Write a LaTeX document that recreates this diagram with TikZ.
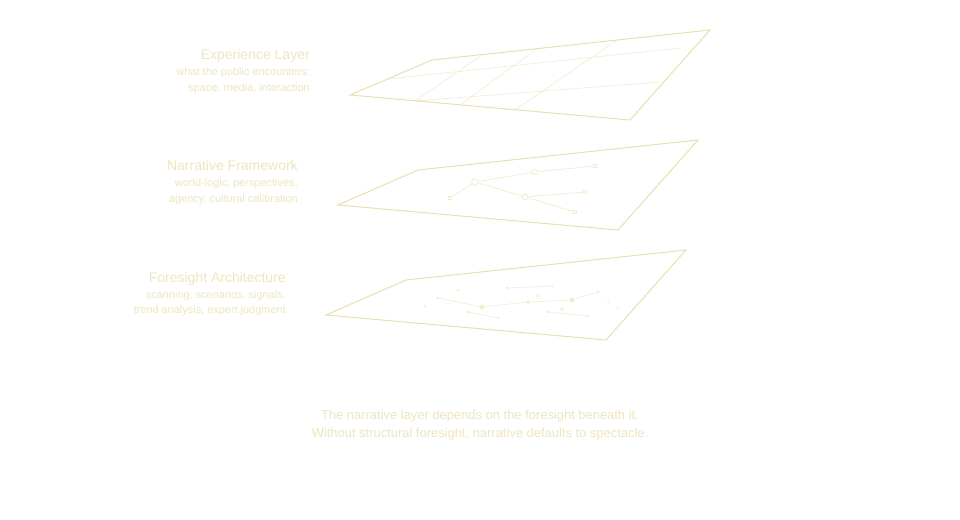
\documentclass[tikz,border=0pt]{standalone}
\usepackage{fontspec}
\setmainfont{Liberation Sans}
\usepackage{tikz}
\usetikzlibrary{arrows}

\definecolor{gold}{RGB}{233,224,176}
\definecolor{paleGold}{RGB}{243,237,208}
\definecolor{labelGold}{RGB}{238,230,190}

\begin{document}
\begin{tikzpicture}[x=0.75pt,y=-0.75pt,
	plane/.style={draw=gold,line width=0.75pt,line join=miter},
	grid/.style={draw=paleGold,line width=0.5pt},
	link/.style={draw=paleGold,line width=0.55pt},
	hub/.style={circle,draw=paleGold,fill=white,line width=0.6pt,inner sep=0pt,minimum size=4.4pt},
	leaf/.style={rectangle,draw=paleGold,fill=white,line width=0.5pt,inner sep=0pt,minimum size=2.4pt},
	dot/.style={circle,fill=paleGold,inner sep=0pt,minimum size=2.6pt},
	title/.style={anchor=base east,text=labelGold,font=\fontsize{10.5pt}{12pt}\selectfont,inner sep=0pt},
	sub/.style={anchor=base east,text=labelGold,font=\fontsize{8.2pt}{10pt}\selectfont,inner sep=0pt},
	note/.style={anchor=base,text=labelGold,font=\fontsize{9.7pt}{12pt}\selectfont,inner sep=0pt}]
	\useasboundingbox (0,0) rectangle (960,520);
	\fill[white] (0,0) rectangle (960,520);

	% experience layer
	\coordinate (e1) at (350,95);
	\coordinate (e2) at (432,60);
	\coordinate (e3) at (710,30);
	\coordinate (e4) at (630,120);
	\draw[grid] (388,79) -- (680,48);
	\draw[grid] (415,101) -- (660,82);
	\draw[grid] (415,101) -- (482,55);
	\draw[grid] (460,105) -- (538,48);
	\draw[grid] (515,110) -- (617,40);
	\draw[plane] (e1) -- (e2) -- (e3) -- (e4) -- cycle;

	\node[title] (t1) at (310,60) {Experience Layer};
	\node[sub] (s1a) at (310,76) {what the public encounters:};
	\node[sub] (s1b) at (310,91.5) {space, media, interaction};

	% narrative framework
	\coordinate (n1) at (338,205);
	\coordinate (n2) at (418,170);
	\coordinate (n3) at (698,140);
	\coordinate (n4) at (618,230);
	\draw[plane] (n1) -- (n2) -- (n3) -- (n4) -- cycle;

	\node[hub,minimum size=5pt] (r1) at (475,182) {};
	\node[hub] (r2) at (535,172) {};
	\node[hub] (r3) at (525,197) {};
	\node[leaf] (l1) at (450,198) {};
	\node[leaf] (l2) at (595,166) {};
	\node[leaf] (l3) at (585,192) {};
	\node[leaf] (l4) at (575,212) {};
	\draw[link] (l1) -- (r1);
	\draw[link] (r1) -- (r2);
	\draw[link] (r2) -- (l2);
	\draw[link] (r1) -- (r3);
	\draw[link] (r3) -- (l3);
	\draw[link] (r3) -- (l4);

	\node[title] (t2) at (298,171) {Narrative Framework};
	\node[sub] (s2a) at (298,187) {world-logic, perspectives,};
	\node[sub] (s2b) at (298,202.5) {agency, cultural calibration};

	% foresight architecture
	\coordinate (f1) at (326,315);
	\coordinate (f2) at (406,280);
	\coordinate (f3) at (686,250);
	\coordinate (f4) at (606,340);
	\draw[plane] (f1) -- (f2) -- (f3) -- (f4) -- cycle;

	\node[dot] (d1) at (438,298) {};
	\node[dot,minimum size=2pt] (d2) at (458,290) {};
	\node[dot,minimum size=1.6pt] (d3) at (425,306) {};
	\node[dot,minimum size=1.6pt] (d4) at (448,304) {};
	\node[dot,minimum size=3.5pt] (d5) at (482,307) {};
	\node[dot] (d6) at (468,312) {};
	\node[dot,minimum size=2pt] (d7) at (498,318) {};
	\node[dot] (d8) at (507,288) {};
	\node[dot,minimum size=2pt] (d9) at (552,286) {};
	\node[dot,minimum size=2.8pt] (d10) at (528,302) {};
	\node[dot,minimum size=2pt] (d11) at (538,296) {};
	\node[dot,minimum size=1.6pt] (d12) at (512,312) {};
	\node[dot,minimum size=4pt] (d13) at (572,300) {};
	\node[dot] (d14) at (598,292) {};
	\node[dot] (d15) at (548,312) {};
	\node[dot,minimum size=2.8pt] (d16) at (562,309) {};
	\node[dot,minimum size=2.2pt] (d17) at (588,316) {};
	\node[dot,minimum size=1.5pt] (d18) at (608,302) {};
	\node[dot,minimum size=1.8pt] (d19) at (618,308) {};
	\draw[link,line width=0.45pt] (d1) -- (d5);
	\draw[link,line width=0.45pt] (d5) -- (d10);
	\draw[link,line width=0.45pt] (d10) -- (d13);
	\draw[link,line width=0.45pt] (d13) -- (d14);
	\draw[link,line width=0.45pt] (d8) -- (d9);
	\draw[link,line width=0.45pt] (d6) -- (d7);
	\draw[link,line width=0.45pt] (d15) -- (d17);

	\node[title] (t3) at (286,282) {Foresight Architecture};
	\node[sub] (s3a) at (286,298) {scanning, scenarios, signals,};
	\node[sub] (s3b) at (286,313.5) {trend analysis, expert judgment};

	% caption
	\node[note] (c1) at (480,419) {The narrative layer depends on the foresight beneath it.};
	\node[note] (c2) at (480,437) {Without structural foresight, narrative defaults to spectacle.};
\end{tikzpicture}
\end{document}
